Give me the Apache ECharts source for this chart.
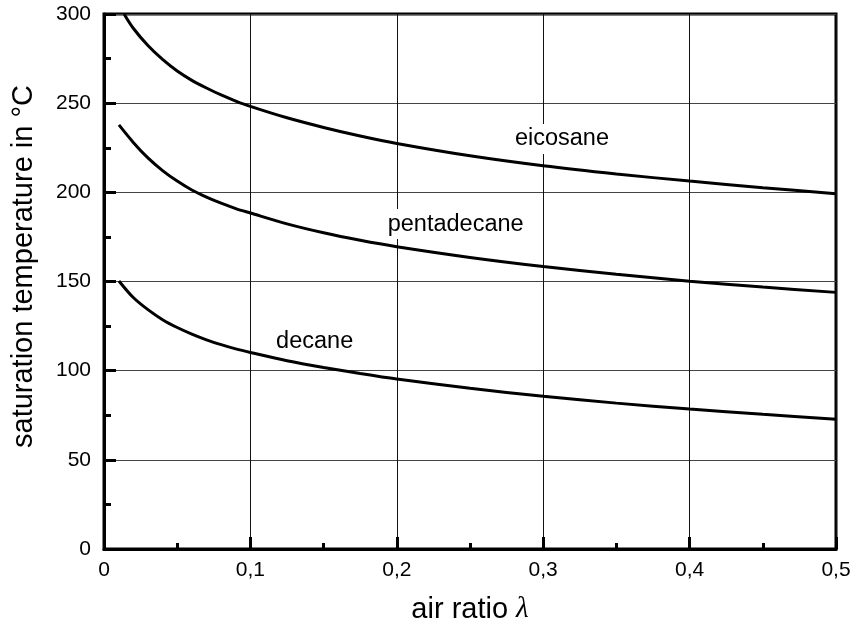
<!DOCTYPE html>
<html>
<head>
<meta charset="utf-8">
<script src="https://cdn.jsdelivr.net/npm/echarts@6/dist/echarts.min.js"></script>
<style>
  html, body { margin: 0; padding: 0; background: #fff; }
  #chart { width: 854px; height: 626px; }
</style>
</head>
<body>
<div id="chart"></div>
<script>
// Saturation temperature of three alkanes versus air ratio lambda
const xEicosane = [0.0137, 0.02, 0.03, 0.04, 0.05, 0.06, 0.07, 0.08, 0.09, 0.1, 0.125, 0.15, 0.175, 0.2, 0.25, 0.3, 0.35, 0.4, 0.45, 0.5];
const tEicosane = [300, 292, 282.3, 274.5, 268, 262.8, 258.5, 254.6, 251.2, 248.2, 241.8, 236.4, 231.6, 227.4, 220.5, 214.9, 210.3, 206.3, 202.6, 199.2];

const xPentadecane = [0.0102, 0.02, 0.03, 0.04, 0.05, 0.06, 0.07, 0.08, 0.09, 0.1, 0.125, 0.15, 0.175, 0.2, 0.25, 0.3, 0.35, 0.4, 0.45, 0.5];
const tPentadecane = [237.8, 228, 219.3, 212.2, 206.3, 201.3, 197.3, 193.9, 190.9, 188.4, 182.3, 177.3, 173.1, 169.5, 163.5, 158.4, 154, 150.2, 146.9, 143.9];

const xDecane = [0.0102, 0.02, 0.03, 0.04, 0.05, 0.06, 0.07, 0.08, 0.09, 0.1, 0.125, 0.15, 0.175, 0.2, 0.25, 0.3, 0.35, 0.4, 0.45, 0.5];
const tDecane = [150.3, 141, 134.2, 128.6, 124.2, 120.5, 117.3, 114.6, 112.2, 110.2, 105.6, 101.8, 98.4, 95.3, 90.1, 85.6, 81.8, 78.5, 75.5, 72.8];

// Curve names and where they are written on the plot
const curveNames = ['eicosane', 'pentadecane', 'decane'];
const nameX = [0.3128, 0.2402, 0.1439];
const nameT = [229.9, 182.2, 116.6];

const xTicks = [0, 0.1, 0.2, 0.3, 0.4, 0.5];
const yTicks = [0, 50, 100, 150, 200, 250, 300];

const FONT = "'Liberation Sans', Arial, Helvetica, sans-serif";

function pairs(xs, ys) { return xs.map((x, i) => [x, ys[i]]); }

function curve(name, xs, ys) {
  return {
    name: name,
    type: 'line',
    data: pairs(xs, ys),
    smooth: 0.3,
    showSymbol: false,
    symbol: 'none',
    lineStyle: { color: '#000', width: 3 },
    z: 3
  };
}

const chart = echarts.init(document.getElementById('chart'), null, { renderer: 'canvas' });

chart.setOption({
  animation: false,
  backgroundColor: '#fff',
  textStyle: { fontFamily: FONT },
  grid: {
    left: 104, right: 18, top: 14, bottom: 77,
    containLabel: false,
    outerBoundsMode: 'none',
    show: true,
    borderColor: '#000',
    borderWidth: 3,
    backgroundColor: 'transparent'
  },
  xAxis: {
    type: 'value',
    min: xTicks[0],
    max: xTicks[xTicks.length - 1],
    interval: 0.1,
    name: 'air ratio {l|λ}',
    nameLocation: 'middle',
    nameGap: 46,
    nameTextStyle: {
      fontFamily: FONT, fontSize: 29, color: '#000',
      rich: { l: { fontFamily: "'Liberation Serif', 'DejaVu Serif', serif", fontStyle: 'italic', fontSize: 29, color: '#000' } }
    },
    axisLine: { show: true, lineStyle: { color: '#000', width: 3 } },
    axisTick: { show: true, inside: true, length: 12, lineStyle: { color: '#000', width: 3 } },
    minorTick: { show: true, splitNumber: 2, length: 6, lineStyle: { color: '#000', width: 3 } },
    splitLine: { show: true, lineStyle: { color: '#111', width: 1 } },
    axisLabel: {
      fontFamily: FONT, fontSize: 21, color: '#000', margin: 11,
      formatter: v => (Math.abs(v) < 1e-9 ? '0' : v.toFixed(1).replace('.', ','))
    }
  },
  yAxis: {
    type: 'value',
    min: yTicks[0],
    max: yTicks[yTicks.length - 1],
    interval: 50,
    name: 'saturation temperature in °C',
    nameLocation: 'middle',
    nameGap: 66,
    nameTextStyle: { fontFamily: FONT, fontSize: 29, color: '#000', padding: [0, 0, 0, 30] },
    axisLine: { show: true, lineStyle: { color: '#000', width: 3 } },
    axisTick: { show: true, inside: true, length: 12, lineStyle: { color: '#000', width: 3 } },
    minorTick: { show: true, splitNumber: 2, length: 7, lineStyle: { color: '#000', width: 3 } },
    splitLine: { show: true, lineStyle: { color: '#444', width: 1 } },
    axisLabel: { fontFamily: FONT, fontSize: 21, color: '#000', margin: 13 }
  },
  series: [
    curve('eicosane', xEicosane, tEicosane),
    curve('pentadecane', xPentadecane, tPentadecane),
    curve('decane', xDecane, tDecane),
    {
      name: 'curve names',
      type: 'scatter',
      symbolSize: 0,
      silent: true,
      z: 5,
      itemStyle: { opacity: 1, color: '#000' },
      data: curveNames.map((n, i) => ({ value: [nameX[i], nameT[i]], name: n })),
      label: {
        show: true,
        position: 'inside',
        formatter: p => p.name,
        fontFamily: FONT,
        fontSize: 23.5,
        color: '#000',
        backgroundColor: '#fff',
        padding: [3, 2, 3, 2]
      }
    }
  ]
});
</script>
</body>
</html>
